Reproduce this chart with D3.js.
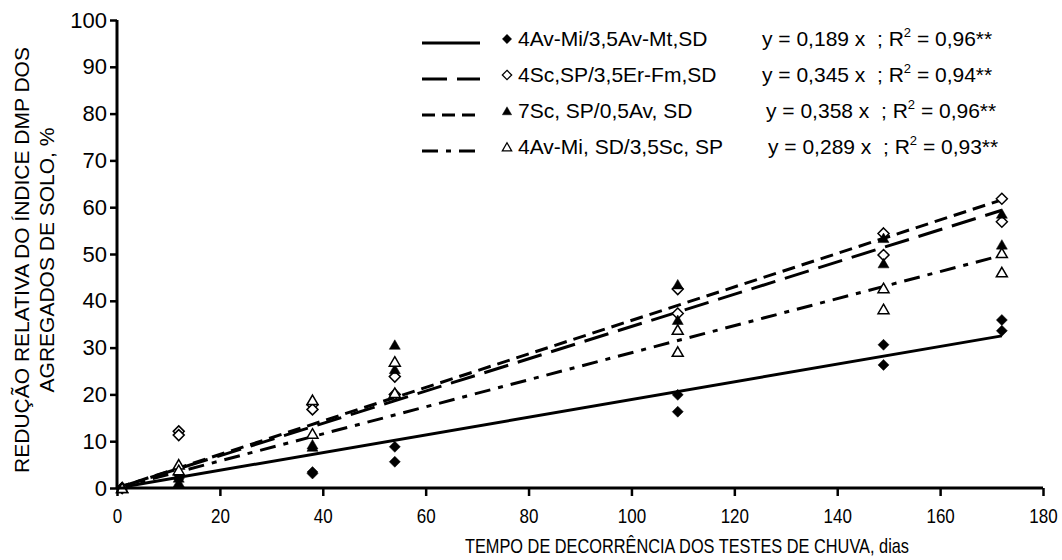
<!DOCTYPE html>
<html>
<head>
<meta charset="utf-8">
<script src="https://cdn.jsdelivr.net/npm/d3@7"></script>
<style>
  body { margin: 0; background: #fff; }
  text { font-family: "Liberation Sans", Arial, sans-serif; fill: #000; white-space: pre; }
</style>
</head>
<body>
<svg id="chart" width="1062" height="560"></svg>
<script>
// days of rain tests (x)
const days = [1, 12, 38, 54, 109, 149, 172];

// two readings per day for each treatment
const t1Values = [[0, 0], [2.8, 2.0], [3.4, 3.1], [8.8, 5.6], [19.9, 16.3], [30.6, 26.3], [35.9, 33.6]];
const t2Values = [[0, 0], [12.1, 11.3], [17.8, 16.8], [23.8, 20.0], [42.5, 37.3], [54.4, 49.8], [61.8, 56.9]];
const t3Values = [[0, 0], [2.2, 1.2], [9.3, 8.8], [30.6, 25.4], [43.5, 35.9], [53.4, 48.0], [58.6, 52.0]];
const t4Values = [[0, 0], [5.0, 3.8], [18.8, 11.6], [27.0, 20.3], [33.8, 29.1], [42.7, 38.2], [50.2, 46.1]];

const seriesNames = ['4Av-Mi/3,5Av-Mt,SD', '4Sc,SP/3,5Er-Fm,SD', '7Sc, SP/0,5Av, SD', '4Av-Mi, SD/3,5Sc, SP'];
const slopes = [0.189, 0.345, 0.358, 0.289];
const slopeLabels = ['0,189', '0,345', '0,358', '0,289'];
const r2Labels = ['0,96**', '0,94**', '0,96**', '0,93**'];

const xTicks = [0, 20, 40, 60, 80, 100, 120, 140, 160, 180];
const yTicks = [0, 10, 20, 30, 40, 50, 60, 70, 80, 90, 100];

const svg = d3.select('#chart');
const x = d3.scaleLinear().domain([0, 180]).range([117, 1043]);
const y = d3.scaleLinear().domain([0, 100]).range([488, 20]);

const dashes = [null, '25,10', '13,7', '16,8,5,8'];
// marker styles: [shape, filled]
const markers = [['diamond', true], ['diamond', false], ['triangle', true], ['triangle', false]];

function markerPath(shape) {
  if (shape === 'diamond') return 'M0,-5.5L5.5,0L0,5.5L-5.5,0Z';
  return 'M0,-5L5.5,4.5L-5.5,4.5Z';
}

// trend lines
const lineGen = d3.line().x(d => x(d[0])).y(d => y(d[1]));
const lastDay = days[days.length - 1];
slopes.forEach((s, i) => {
  svg.append('path')
    .attr('d', lineGen([[0, 0], [lastDay, s * lastDay]]))
    .attr('fill', 'none')
    .attr('stroke', '#000')
    .attr('stroke-width', 3)
    .attr('stroke-dasharray', dashes[i]);
});

// points
[t1Values, t2Values, t3Values, t4Values].forEach((vals, i) => {
  const pts = [];
  vals.forEach((pair, j) => pair.forEach(v => pts.push([days[j], v])));
  svg.selectAll(null)
    .data(pts)
    .enter()
    .append('path')
    .attr('d', markerPath(markers[i][0]))
    .attr('transform', d => `translate(${x(d[0])},${y(d[1])})`)
    .attr('fill', markers[i][1] ? '#000' : '#fff')
    .attr('stroke', '#000')
    .attr('stroke-width', markers[i][1] ? 0.5 : 1.5);
});

// axes
const xAxis = svg.append('g')
  .attr('transform', `translate(0,${y(0)})`)
  .call(d3.axisBottom(x).tickValues(xTicks).tickSize(8).tickFormat(d3.format('d')));
xAxis.select('.domain').attr('d', `M${x(0)},0H${x(180)}`).attr('stroke-width', 3);
xAxis.selectAll('.tick line').attr('stroke-width', 2.5);
xAxis.selectAll('.tick text')
  .attr('font-size', 20)
  .attr('y', 21)
  .attr('dy', '0.71em')
  .attr('transform', 'scale(0.85,1)');

const yAxis = svg.append('g')
  .attr('transform', `translate(${x(0)},0)`)
  .call(d3.axisLeft(y).tickValues(yTicks).tickSize(7));
yAxis.select('.domain').attr('d', `M0,${y(0)}V${y(100)}`).attr('stroke-width', 3);
yAxis.selectAll('.tick line').attr('stroke-width', 2.5);
yAxis.selectAll('.tick text').attr('font-size', 22).attr('x', -10);

// axis titles
svg.append('text')
  .attr('x', 687)
  .attr('y', 553)
  .attr('text-anchor', 'middle')
  .attr('font-size', 21)
  .attr('textLength', 444)
  .attr('lengthAdjust', 'spacingAndGlyphs')
  .text('TEMPO DE DECORRÊNCIA DOS TESTES DE CHUVA, dias');

const yTitle = svg.append('text')
  .attr('transform', 'translate(0,260) rotate(-90)')
  .attr('text-anchor', 'middle')
  .attr('font-size', 21);
yTitle.append('tspan').attr('x', 0).attr('y', 29).text('REDUÇÃO RELATIVA DO ÍNDICE DMP DOS');
yTitle.append('tspan').attr('x', 0).attr('y', 54).text('AGREGADOS DE SOLO, %');

// legend
const eqX = [762, 762, 766, 768];
seriesNames.forEach((name, i) => {
  const base = 46 + i * 36;
  svg.append('line')
    .attr('x1', 422).attr('x2', 480)
    .attr('y1', base - 3).attr('y2', base - 3)
    .attr('stroke', '#000')
    .attr('stroke-width', 3)
    .attr('stroke-dasharray', dashes[i]);
  svg.append('path')
    .attr('d', markerPath(markers[i][0]))
    .attr('transform', `translate(507,${base - 7}) scale(0.85)`)
    .attr('fill', markers[i][1] ? '#000' : '#fff')
    .attr('stroke', '#000')
    .attr('stroke-width', markers[i][1] ? 0.5 : 1.5);
  svg.append('text')
    .attr('x', 518).attr('y', base)
    .attr('font-size', 21)
    .text(name);
  const eq = svg.append('text')
    .attr('x', eqX[i]).attr('y', base)
    .attr('font-size', 21);
  eq.append('tspan').text(`y = ${slopeLabels[i]} x  ; R`);
  eq.append('tspan').attr('font-size', 13).attr('dy', -9).text('2');
  eq.append('tspan').attr('dy', 9).text(` = ${r2Labels[i]}`);
});
</script>
</body>
</html>
